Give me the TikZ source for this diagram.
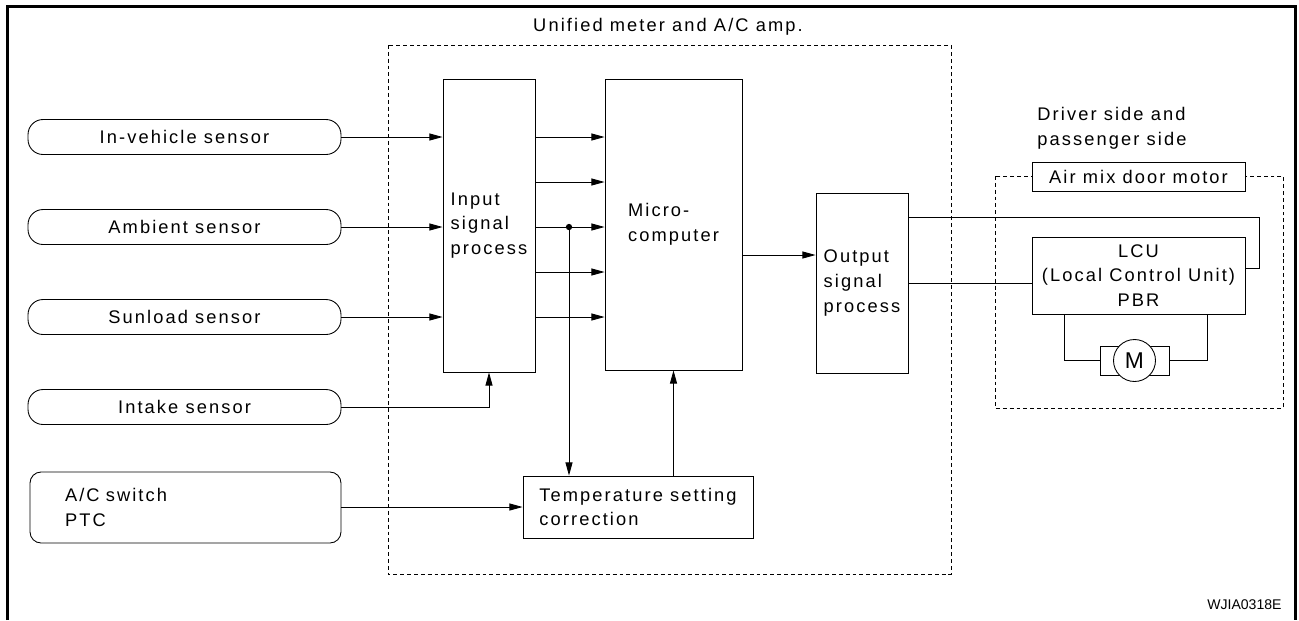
\documentclass[tikz,border=0pt]{standalone}
\usepackage{fontspec}
\setmainfont{Liberation Sans}[LetterSpace=11.5]
\newfontfamily\codefont{Liberation Sans}
\usetikzlibrary{arrows.meta}

\begin{document}
\begin{tikzpicture}[x=0.02cm,y=-0.02cm,line width=0.5pt,>={Triangle[length=7.5pt,width=4pt]},
  every node/.style={font=\fontsize{10.4pt}{14pt}\selectfont,inner sep=0pt},
  sensor/.style={draw,rounded corners=0.3cm,minimum width=6.26cm,minimum height=0.7cm},
  acbox/.style={draw,rounded corners=0.22cm,align=left,text width=4.82cm,minimum width=6.22cm,minimum height=1.42cm},
  procbox/.style={draw,align=left},
  dashbox/.style={draw,dash pattern=on 2.2pt off 1.7pt}]
  \useasboundingbox (0,0) rectangle (1299,620);
  % outer frame, open at the bottom
  \draw[line width=2pt] (7.5,620) -- (7.5,6.5) -- (1295.5,6.5) -- (1295.5,620);
  % unit borders
  \draw[dashbox] (388,45) rectangle (951,574);
  \node (uni) at (668,27) {Unified meter and A/C amp.};
  \draw[dashbox] (995,176) rectangle (1283,408);
  \node[align=left,anchor=west] (drv) at (1037,128) {Driver side and\\passenger side};
  % sensors
  \node[sensor] (ivs) at (184.5,137) {In-vehicle sensor};
  \node[sensor] (amb) at (184.5,227) {Ambient sensor};
  \node[sensor] (sun) at (184.5,317) {Sunload sensor};
  \node[sensor] (itk) at (184.5,407) {Intake sensor};
  \node[acbox] (ac) at (185.5,507.5) {A/C switch\\PTC};
  % amplifier blocks
  \node[procbox,minimum width=1.84cm,minimum height=5.86cm] (inp) at (489,225.5) {Input\\signal\\process};
  \node[procbox,minimum width=2.74cm,minimum height=5.82cm] (mic) at (673.5,224.5) {Micro-\\computer};
  \node[procbox,minimum width=4.6cm,minimum height=1.24cm] (tmp) at (638,507) {Temperature setting\\correction};
  \node[procbox,minimum width=1.84cm,minimum height=3.6cm] (out) at (862,283) {Output\\signal\\process};
  % actuator
  \node[procbox,fill=white,minimum width=4.26cm,minimum height=0.58cm] (amd) at (1138.5,176.5) {Air mix door motor};
  \node[procbox,align=center,minimum width=4.26cm,minimum height=1.54cm] (lcu) at (1138.5,275.5) {LCU\\(Local Control Unit)\\PBR};
  \node[draw,minimum width=1.38cm,minimum height=0.58cm] (mbody) at (1134.5,360.5) {};
  \node[draw,circle,fill=white,minimum size=0.84cm,font=\codefont\fontsize{13pt}{13pt}\selectfont] (mot) at (mbody) {M};
  % signals
  \foreach \s in {ivs,amb,sun} \draw[->] (\s.east) -- (\s.east -| inp.west);
  \draw[->] (itk.east) -| (inp.south);
  \foreach \y in {137,182,227,272,317} \draw[->] (inp.east |- 0,\y) -- (mic.west |- 0,\y);
  \coordinate (jn) at (569,227);
  \fill (jn) circle (1.8pt);
  \draw[->] (jn) -- (jn |- tmp.north);
  \draw[->] (mic.south |- tmp.north) -- (mic.south);
  \draw[->] (ac.east |- tmp.west) -- (tmp.west);
  \draw[->] (mic.east |- 0,255) -- (out.west |- 0,255);
  \coordinate (rt) at (1259,268);
  \draw (out.east |- 0,217) -| (rt) -- (lcu.east |- rt);
  \draw (out.east |- 0,283) -- (lcu.west |- 0,283);
  \draw (lcu.south -| 1064,0) |- (mbody.west);
  \draw (mbody.east) -| (lcu.south -| 1207,0);
  \node[font=\codefont\fontsize{8pt}{8pt}\selectfont,anchor=base east] (code) at (1282,609) {WJIA0318E};
\end{tikzpicture}
\end{document}
